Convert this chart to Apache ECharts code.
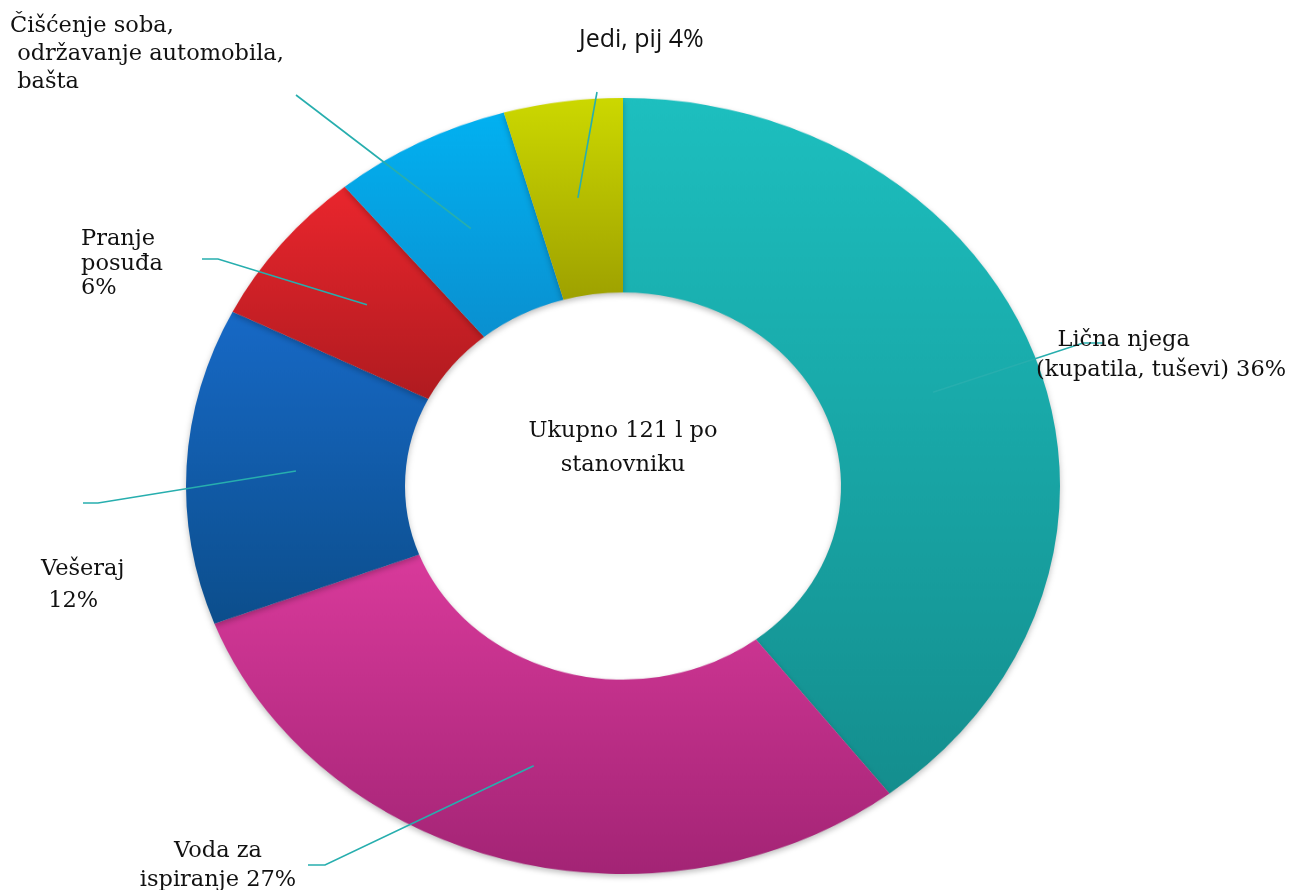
<!DOCTYPE html>
<html>
<head>
<meta charset="utf-8">
<script src="https://cdn.jsdelivr.net/npm/echarts@6/dist/echarts.min.js"></script>
<style>
html, body { margin: 0; padding: 0; background: #fff; }
#wrap { position: relative; width: 1292px; height: 890px; overflow: hidden; }
#ring, #labels { position: absolute; left: 0; top: 0; width: 1292px; }
#labels { height: 890px; }
/* the original donut is a bit flatter than round, so squash the ring layer */
#ring { height: 1000px; transform: scaleY(0.888); transform-origin: 623px 486px; }
</style>
</head>
<body>
<div id="wrap"><div id="ring"></div><div id="labels"></div></div>
<script>
var names = ['Lična njega', 'Voda za ispiranje', 'Vešeraj', 'Pranje posuđa',
             'Čišćenje soba, održavanje automobila, bašta', 'Jedi, pij'];
var values = [36, 27, 12, 6, 6, 4];
var labelTexts = [
    '   Lična njega\n(kupatila, tuševi) 36%',
    'Voda za\nispiranje 27%',
    'Vešeraj\n 12%',
    'Pranje\nposuđa\n6%',
    'Čišćenje soba,\n održavanje automobila,\n bašta',
    'Jedi, pij 4%'
];
var centerText = 'Ukupno 121 l po\nstanovniku';

var topColors    = ['#1dbfbf', '#d93a9b', '#1769c6', '#ea262d', '#02b1f1', '#ccd800'];
var bottomColors = ['#148e8e', '#a32475', '#0c4e8c', '#b01b20', '#0a90d0', '#9ea100'];

// label placement: x, y (middle of text block), align, lineHeight
var labelPos = [
    [1036, 355, 'left', 30],
    [218, 866, 'center', 29],
    [41, 585, 'left', 32],
    [81, 264, 'left', 24.5],
    [10, 54, 'left', 28],
    [579, 40, 'left', 26]
];
// leader line ends (after the anchor on the ring)
var leaderEnds = [
    [[1083, 343], [1103, 343]],
    [[325, 865], [308, 865]],
    [[98, 503], [83, 503]],
    [[218, 259], [202, 259]],
    [[296, 95]],
    [[597, 92]]
];

var cx = 623, cy = 486, rOuter = 437, rInner = 218, squash = 0.888;
var serif = '"DejaVu Serif", "Liberation Serif", serif';
var sans = '"Open Sans", Lato, sans-serif';

var total = values.reduce(function (a, b) { return a + b; }, 0);

function anchorOf(i) {
    var before = 0;
    for (var k = 0; k < i; k++) before += values[k];
    var t = (before + values[i] / 2) / total * Math.PI * 2;
    var rm = (rOuter + rInner) / 2;
    return [cx + rm * Math.sin(t), cy - rm * squash * Math.cos(t)];
}

var ringChart = echarts.init(document.getElementById('ring'));
ringChart.setOption({
    animation: false,
    series: [{
        type: 'pie',
        center: [cx, cy],
        radius: [rInner, rOuter],
        startAngle: 90,
        clockwise: true,
        silent: true,
        label: { show: false },
        labelLine: { show: false },
        itemStyle: { shadowBlur: 6, shadowOffsetY: 3, shadowColor: 'rgba(0,0,0,0.25)' },
        data: values.map(function (v, i) {
            return {
                value: v,
                name: names[i],
                itemStyle: {
                    color: new echarts.graphic.LinearGradient(0, 0, 0, 1, [
                        { offset: 0, color: topColors[i] },
                        { offset: 1, color: bottomColors[i] }
                    ])
                }
            };
        })
    }]
});

var labelChart = echarts.init(document.getElementById('labels'));
labelChart.setOption({
    animation: false,
    graphic: [{
        type: 'text',
        x: cx,
        y: 448,
        style: {
            text: centerText,
            font: '22.5px ' + serif,
            fill: '#111',
            align: 'center',
            verticalAlign: 'middle',
            lineHeight: 34
        }
    }],
    series: [{
        type: 'pie',
        center: [cx, cy],
        radius: [0, rInner],
        startAngle: 90,
        clockwise: true,
        silent: true,
        avoidLabelOverlap: false,
        itemStyle: { color: 'rgba(0,0,0,0)' },
        emphasis: { disabled: true },
        label: {
            show: true,
            position: 'outside',
            color: '#111',
            fontSize: 22.5,
            fontFamily: serif,
            formatter: function (p) { return labelTexts[p.dataIndex]; }
        },
        labelLine: {
            show: true,
            length: 10,
            length2: 10,
            lineStyle: { color: '#27aeae', width: 1.6 }
        },
        labelLayout: function (p) {
            var i = p.dataIndex;
            var pos = labelPos[i];
            return {
                x: pos[0],
                y: pos[1],
                align: pos[2],
                verticalAlign: 'middle',
                labelLinePoints: [anchorOf(i)].concat(leaderEnds[i])
            };
        },
        data: values.map(function (v, i) {
            return {
                value: v,
                name: names[i],
                label: {
                    lineHeight: labelPos[i][3],
                    fontFamily: i === 5 ? sans : serif,
                    fontSize: i === 5 ? 25 : 22.5
                }
            };
        })
    }]
});
</script>
</body>
</html>
